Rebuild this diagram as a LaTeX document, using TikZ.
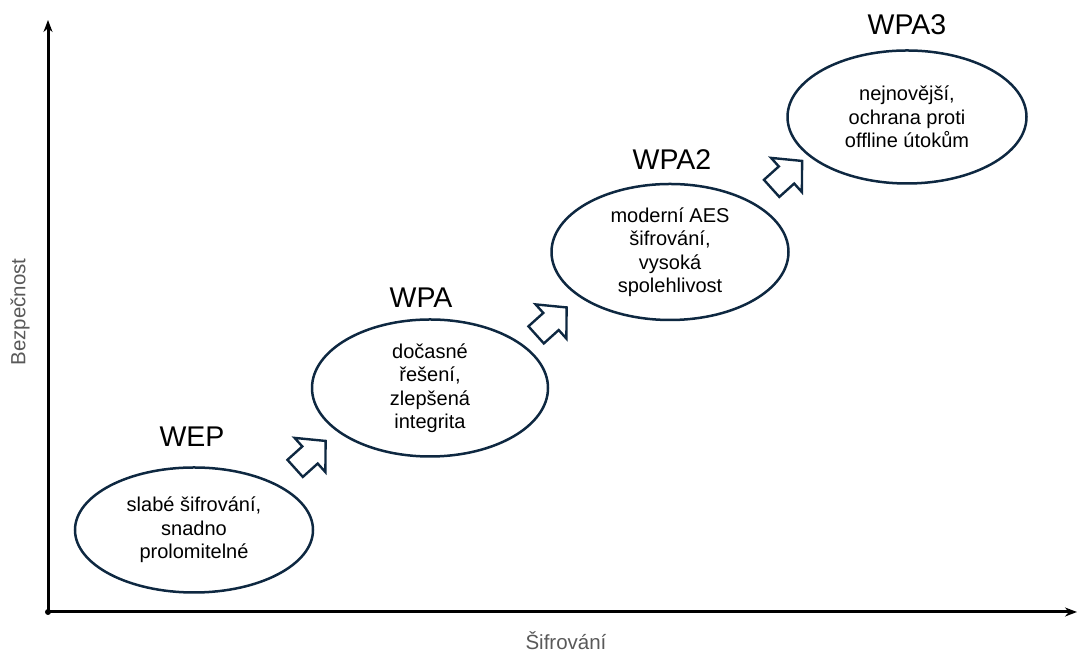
\documentclass[tikz,border=0pt]{standalone}
\usepackage{fontspec}
\setmainfont{Liberation Sans}
\usetikzlibrary{arrows.meta,shapes.geometric}
\definecolor{navy}{HTML}{0E2841}
\definecolor{axislabel}{HTML}{595959}
\begin{document}
\begin{tikzpicture}[x=1pt,y=1pt,
  stage/.style={draw=navy, line width=2.5pt, ellipse, inner sep=0pt, align=center,
    font=\fontsize{20}{23.5}\selectfont},
  title/.style={anchor=base, font=\fontsize{28.5}{32}\selectfont},
  axisline/.style={line width=3pt, -{Stealth[length=12pt,width=9pt]}},
  axistext/.style={text=axislabel, font=\fontsize{20.5}{24}\selectfont},
  blockarrow/.style={draw=navy, line width=2.4pt, line join=miter, fill=white}
]
\useasboundingbox (0,0) rectangle (1077,655);

% axes
\coordinate (O) at (48,43);
\coordinate (ytop) at (48,635);
\coordinate (xend) at (1077,43);
\draw[axisline] (O) -- (ytop);
\draw[axisline] (O) -- (xend);
\fill (O) circle (3pt);
\node[axistext, rotate=90] (ylab) at (20,343) {Bezpečnost};
\node[axistext, anchor=base, inner sep=0pt] (xlab) at (566,5) {Šifrování};

% stages
\node[stage, minimum width=238pt, minimum height=125pt] (wep) at (194,125)
  {slabé šifrování,\\snadno\\prolomitelné};
\node[stage, minimum width=236pt, minimum height=137pt] (wpa) at (430,267)
  {dočasné\\řešení,\\zlepšená\\integrita};
\node[stage, minimum width=237pt, minimum height=136pt] (wpa2) at (670,403)
  {moderní AES\\šifrování,\\vysoká\\spolehlivost};
\node[stage, minimum width=239pt, minimum height=133pt] (wpa3) at (907,538)
  {nejnovější,\\ochrana proti\\offline útokům};

% titles
\node[title] (twep) at (192,208) {WEP};
\node[title] (twpa) at (421,347) {WPA};
\node[title] (twpa2) at (672,485) {WPA2};
\node[title] (twpa3) at (907,620) {WPA3};

% block arrows
\foreach \cx/\cy [count=\i] in {310/200, 551/333.5, 786.5/480}{
  \begin{scope}[shift={(\cx,\cy)}, rotate=42]
    \draw[blockarrow] (-20,-11.5) -- (0,-11.5) -- (0,-23) -- (21,0) -- (0,23)
      -- (0,11.5) -- (-20,11.5) -- cycle;
  \end{scope}
}
\end{tikzpicture}
\end{document}
